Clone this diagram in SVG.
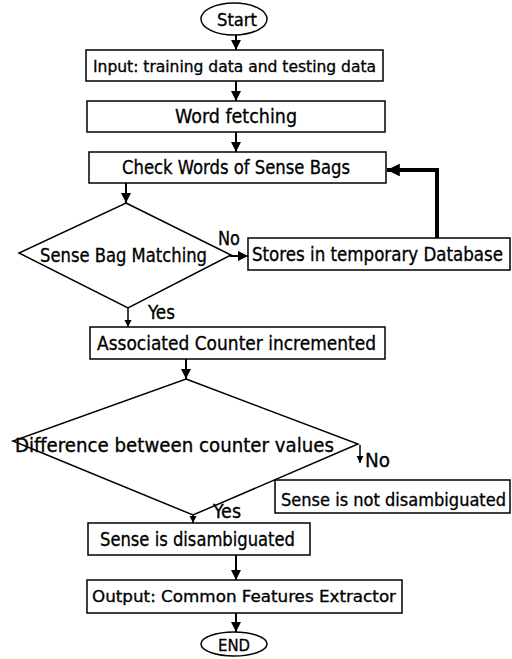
<svg xmlns="http://www.w3.org/2000/svg" width="512" height="659" viewBox="0 0 512 659">
<defs>
<marker id="ah" viewBox="0 0 10 10" refX="10" refY="5" markerWidth="5" markerHeight="5" markerUnits="strokeWidth" orient="auto"><path d="M0,0 L10,5 L0,10 z" fill="#000"/></marker>
<marker id="ahs" viewBox="0 0 10 10" refX="10" refY="5" markerWidth="5" markerHeight="5" markerUnits="strokeWidth" orient="auto"><path d="M0,0 L10,5 L0,10 z" fill="#000"/></marker>
<marker id="ahb" viewBox="0 0 10 10" refX="10" refY="5" markerWidth="3.2" markerHeight="3.2" markerUnits="strokeWidth" orient="auto"><path d="M0,0 L10,5 L0,10 z" fill="#000"/></marker>
</defs>
<style>
.box{fill:#fff;stroke:#000;stroke-width:1.5}
.t{font-family:"DejaVu Sans Condensed","DejaVu Sans",sans-serif;fill:#000;stroke:#000;stroke-width:0.3}
.c{stroke:#000;stroke-width:2;fill:none}
</style>
<rect width="512" height="659" fill="#fff"/>
<g id="connectors">
<line class="c" x1="236" y1="35" x2="236" y2="50" marker-end="url(#ah)"/>
<line class="c" x1="236" y1="81" x2="236" y2="101" marker-end="url(#ah)"/>
<line class="c" x1="236" y1="132" x2="236" y2="152" marker-end="url(#ah)"/>
<line class="c" x1="126" y1="183" x2="126" y2="203" marker-end="url(#ah)"/>
<line class="c" x1="230" y1="256" x2="248" y2="256" marker-end="url(#ah)"/>
<polyline points="437,238 437,170 387,170" stroke="#000" stroke-width="4" fill="none" marker-end="url(#ahb)"/>
<line x1="128" y1="308" x2="128" y2="327" stroke="#000" stroke-width="1.5" marker-end="url(#ahs)"/>
<line class="c" x1="186" y1="359" x2="186" y2="379" marker-end="url(#ah)"/>
<line x1="360" y1="445" x2="360" y2="463" stroke="#000" stroke-width="1.5" marker-end="url(#ahs)"/>
<line x1="193" y1="513" x2="193" y2="523" stroke="#000" stroke-width="1.5" marker-end="url(#ahs)"/>
<line class="c" x1="236" y1="555" x2="236" y2="580" marker-end="url(#ah)"/>
<line class="c" x1="236" y1="613" x2="236" y2="632" marker-end="url(#ah)"/>
</g>
<g id="start"><ellipse class="box" cx="234" cy="19" rx="33" ry="16"/><text class="t" x="217" y="26" font-size="17" textLength="40" lengthAdjust="spacingAndGlyphs">Start</text></g>
<g id="input"><rect class="box" x="86" y="50" width="297" height="31"/><text class="t" x="93" y="72" font-size="16" textLength="283" lengthAdjust="spacingAndGlyphs">Input: training data and testing data</text></g>
<g id="fetch"><rect class="box" x="87" y="101" width="298" height="31"/><text class="t" x="175" y="123" font-size="20" textLength="122" lengthAdjust="spacingAndGlyphs">Word fetching</text></g>
<g id="check"><rect class="box" x="89" y="152" width="297" height="31"/><text class="t" x="122" y="174" font-size="20" textLength="228" lengthAdjust="spacingAndGlyphs">Check Words of Sense Bags</text></g>
<g id="match"><polygon class="box" points="126,203 231,255 128,308 19,253"/><text class="t" x="40" y="262" font-size="19" textLength="167" lengthAdjust="spacingAndGlyphs">Sense Bag Matching</text>
<text class="t" x="218" y="245" font-size="19" textLength="22" lengthAdjust="spacingAndGlyphs">No</text><text class="t" x="148" y="319" font-size="19" textLength="27" lengthAdjust="spacingAndGlyphs">Yes</text></g>
<g id="stores"><rect class="box" x="248" y="238" width="262" height="32"/><text class="t" x="252" y="261" font-size="19" textLength="251" lengthAdjust="spacingAndGlyphs">Stores in temporary Database</text></g>
<g id="counter"><rect class="box" x="90" y="327" width="295" height="32"/><text class="t" x="97" y="350" font-size="19" textLength="279" lengthAdjust="spacingAndGlyphs">Associated Counter incremented</text></g>
<g id="diff"><polygon class="box" points="186,379 358,444 193,515 13,441"/><text class="t" x="15" y="452" font-size="19" textLength="319" lengthAdjust="spacingAndGlyphs">Difference between counter values</text>
<text class="t" x="365" y="467" font-size="19" textLength="25" lengthAdjust="spacingAndGlyphs">No</text><text class="t" x="213" y="518" font-size="19" textLength="28" lengthAdjust="spacingAndGlyphs">Yes</text></g>
<g id="notdis"><rect class="box" x="275" y="480" width="235" height="33"/><text class="t" x="281" y="506" font-size="17" textLength="225" lengthAdjust="spacingAndGlyphs">Sense is not disambiguated</text></g>
<g id="dis"><rect class="box" x="88" y="523" width="222" height="32"/><text class="t" x="100" y="546" font-size="20" textLength="195" lengthAdjust="spacingAndGlyphs">Sense is disambiguated</text></g>
<g id="output"><rect class="box" x="87" y="580" width="315" height="33"/><text class="t" x="92" y="602" font-size="16" textLength="304" lengthAdjust="spacingAndGlyphs">Output: Common Features Extractor</text></g>
<g id="end"><ellipse class="box" cx="234" cy="644" rx="33" ry="12"/><text class="t" x="218" y="651" font-size="16" textLength="32" lengthAdjust="spacingAndGlyphs">END</text></g>
</svg>
